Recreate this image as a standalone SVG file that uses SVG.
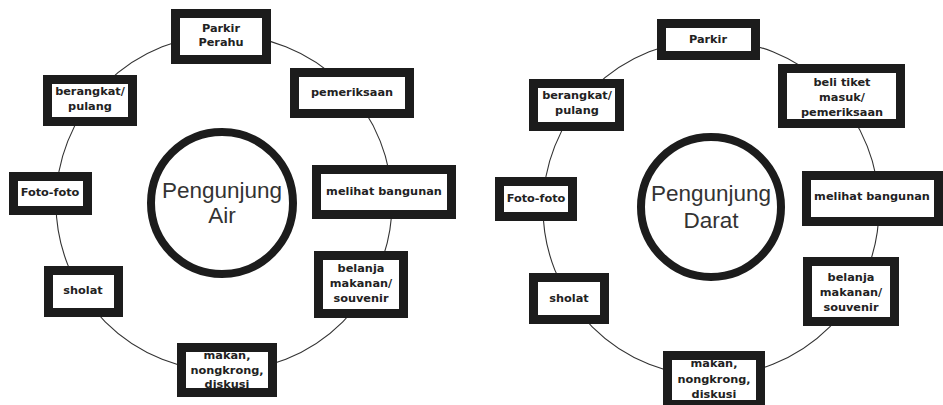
<svg xmlns="http://www.w3.org/2000/svg" width="943" height="405" viewBox="0 0 943 405">
<style>
.ring{fill:none;stroke:#333;stroke-width:1.1}
.bg{fill:#fff}
.frame{fill:none;stroke:#1c1c1c;stroke-width:9}
.lbl{font-family:"DejaVu Sans",Verdana,sans-serif;font-weight:bold;font-size:11.3px;fill:#222;text-anchor:middle}
.hub{fill:#fff;stroke:#1c1c1c;stroke-width:8}
.hubt{font-family:"Liberation Sans",Arial,sans-serif;font-size:22.5px;fill:#333;text-anchor:middle}
</style>
<rect width="943" height="405" fill="#fff"/>
<g id="connectors">
<circle class="ring" cx="224" cy="203" r="168"/>
<circle class="ring" cx="711" cy="208" r="168"/>
</g>
<!-- Left diagram -->
<g id="hub-air">
<circle class="hub" cx="222" cy="203" r="71"/>
<text class="hubt" x="222" y="198">Pengunjung</text>
<text class="hubt" x="222" y="223">Air</text>
</g>
<g id="l-parkir">
<rect class="bg" x="175.5" y="13.5" width="91" height="46"/>
<text class="lbl" x="221" y="32">Parkir</text>
<text class="lbl" x="221" y="46">Perahu</text>
<rect class="frame" x="175.5" y="13.5" width="91" height="46"/>
</g>
<g id="l-pemeriksaan">
<rect class="bg" x="294.5" y="72.5" width="115" height="41"/>
<text class="lbl" x="352" y="96">pemeriksaan</text>
<rect class="frame" x="294.5" y="72.5" width="115" height="41"/>
</g>
<g id="l-berangkat">
<rect class="bg" x="47.5" y="79.5" width="85" height="42"/>
<text class="lbl" x="90" y="95">berangkat/</text>
<text class="lbl" x="90" y="110">pulang</text>
<rect class="frame" x="47.5" y="79.5" width="85" height="42"/>
</g>
<g id="l-foto">
<rect class="bg" x="13.5" y="176.5" width="74" height="34"/>
<text class="lbl" x="50" y="196">Foto-foto</text>
<rect class="frame" x="13.5" y="176.5" width="74" height="34"/>
</g>
<g id="l-melihat">
<rect class="bg" x="316.5" y="169.5" width="135" height="45"/>
<text class="lbl" x="384" y="195">melihat bangunan</text>
<rect class="frame" x="316.5" y="169.5" width="135" height="45"/>
</g>
<g id="l-sholat">
<rect class="bg" x="48.5" y="270.5" width="70" height="42"/>
<text class="lbl" x="83" y="294">sholat</text>
<rect class="frame" x="48.5" y="270.5" width="70" height="42"/>
</g>
<g id="l-belanja">
<rect class="bg" x="318.5" y="255.5" width="85" height="58"/>
<text class="lbl" x="361" y="272">belanja</text>
<text class="lbl" x="361" y="287">makanan/</text>
<text class="lbl" x="361" y="302">souvenir</text>
<rect class="frame" x="318.5" y="255.5" width="85" height="58"/>
</g>
<g id="l-makan">
<rect class="bg" x="181.5" y="347.5" width="91" height="45"/>
<text class="lbl" x="227" y="359">makan,</text>
<text class="lbl" x="227" y="374">nongkrong,</text>
<text class="lbl" x="227" y="388">diskusi</text>
<rect class="frame" x="181.5" y="347.5" width="91" height="45"/>
</g>
<!-- Right diagram -->
<g id="hub-darat">
<circle class="hub" cx="711" cy="207" r="70"/>
<text class="hubt" x="711" y="201">Pengunjung</text>
<text class="hubt" x="711" y="228">Darat</text>
</g>
<g id="r-parkir">
<rect class="bg" x="661.5" y="23.5" width="94" height="32"/>
<text class="lbl" x="708" y="43">Parkir</text>
<rect class="frame" x="661.5" y="23.5" width="94" height="32"/>
</g>
<g id="r-tiket">
<rect class="bg" x="782.5" y="68.5" width="118" height="55"/>
<text class="lbl" x="842" y="86">beli tiket</text>
<text class="lbl" x="842" y="101">masuk/</text>
<text class="lbl" x="842" y="116">pemeriksaan</text>
<rect class="frame" x="782.5" y="68.5" width="118" height="55"/>
</g>
<g id="r-berangkat">
<rect class="bg" x="533.5" y="83.5" width="86" height="43"/>
<text class="lbl" x="577" y="99">berangkat/</text>
<text class="lbl" x="577" y="114">pulang</text>
<rect class="frame" x="533.5" y="83.5" width="86" height="43"/>
</g>
<g id="r-foto">
<rect class="bg" x="499.5" y="181.5" width="73" height="35"/>
<text class="lbl" x="536" y="202">Foto-foto</text>
<rect class="frame" x="499.5" y="181.5" width="73" height="35"/>
</g>
<g id="r-melihat">
<rect class="bg" x="806.5" y="175.5" width="132" height="46"/>
<text class="lbl" x="872" y="200">melihat bangunan</text>
<rect class="frame" x="806.5" y="175.5" width="132" height="46"/>
</g>
<g id="r-sholat">
<rect class="bg" x="533.5" y="277.5" width="71" height="42"/>
<text class="lbl" x="569" y="302">sholat</text>
<rect class="frame" x="533.5" y="277.5" width="71" height="42"/>
</g>
<g id="r-belanja">
<rect class="bg" x="807.5" y="261.5" width="87" height="60"/>
<text class="lbl" x="851" y="281">belanja</text>
<text class="lbl" x="851" y="296">makanan/</text>
<text class="lbl" x="851" y="311">souvenir</text>
<rect class="frame" x="807.5" y="261.5" width="87" height="60"/>
</g>
<g id="r-makan">
<rect class="bg" x="667.5" y="355.5" width="93" height="49"/>
<text class="lbl" x="714" y="367">makan,</text>
<text class="lbl" x="714" y="383">nongkrong,</text>
<text class="lbl" x="714" y="398">diskusi</text>
<rect class="frame" x="667.5" y="355.5" width="93" height="49"/>
</g>
</svg>
